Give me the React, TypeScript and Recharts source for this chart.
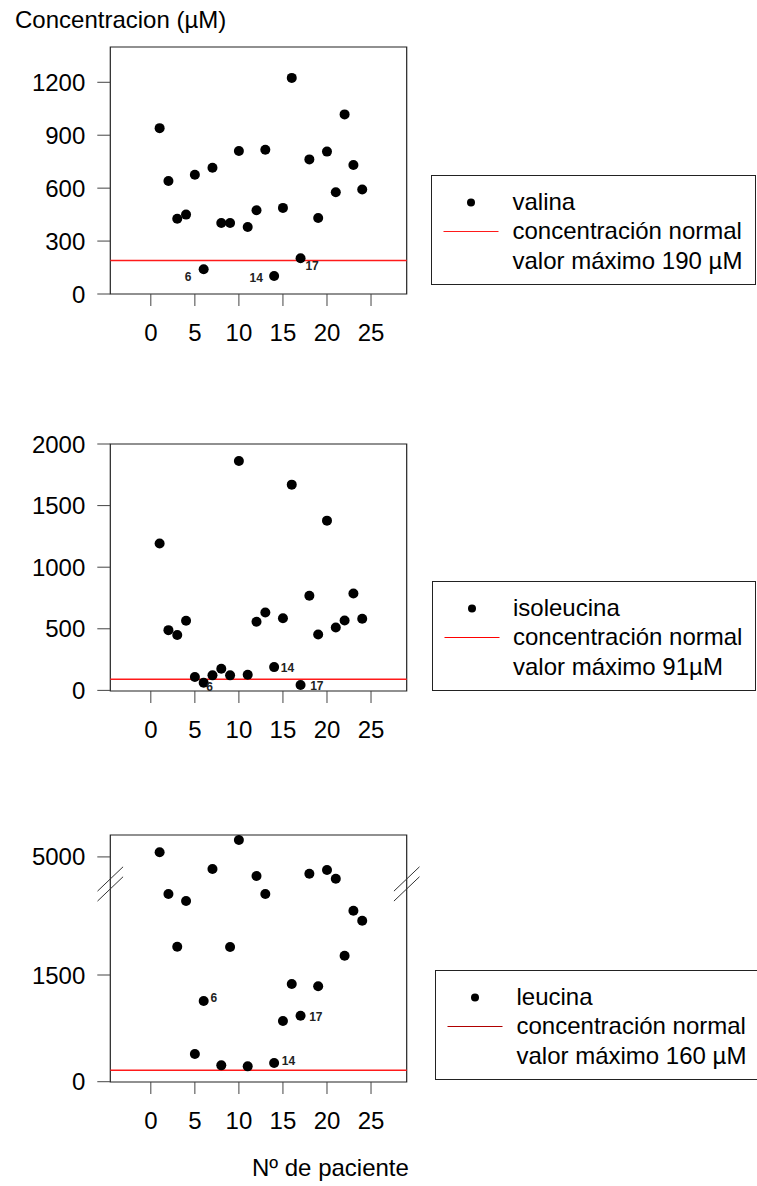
import { ScatterChart, Scatter, XAxis, YAxis, ReferenceLine, ReferenceArea } from "recharts"

// patient numbers on the x axis
const PATIENTS = [1, 2, 3, 4, 5, 6, 7, 8, 9, 10, 11, 12, 13, 14, 15, 16, 17, 18, 19, 20, 21, 22, 23, 24]

// concentrations in µM, one per patient
const VALINA = [940, 640, 427, 450, 676, 140, 716, 402, 402, 811, 380, 475, 818, 102, 488, 1225, 203, 763, 431, 807, 577, 1018, 731, 592]
const ISOLEUCINA = [1192, 489, 449, 565, 108, 62, 122, 176, 122, 1862, 127, 557, 632, 189, 586, 1670, 43, 768, 454, 1378, 511, 568, 786, 581]
const LEUCINA = [5171, 2639, 1898, 2540, 389, 1134, 4553, 230, 1894, 5626, 216, 4295, 2639, 263, 853, 1373, 928, 4379, 1341, 4516, 4195, 1771, 2404, 2263]

// upper limit of the normal range
const VALINA_NORMAL = 190
const ISOLEUCINA_NORMAL = 91
const LEUCINA_NORMAL = 160

const X_TICKS = [0, 5, 10, 15, 20, 25]
const VALINA_TICKS = [0, 300, 600, 900, 1200]
const ISOLEUCINA_TICKS = [0, 500, 1000, 1500, 2000]
const LEUCINA_TICKS = [0, 1500, 5000]

// patients that get a number next to their point
const LABELLED = [6, 14, 17]

const X_DOMAIN: [number, number] = [-4.6, 29.05]
const FONT = "'Liberation Sans', Arial, Helvetica, sans-serif"

// broken y axis for leucina: below BREAK_LOW linear, above it compressed from BREAK_HIGH
const BREAK_LOW = 2780
const BREAK_HIGH = 4000
const UPPER_SLOPE = 0.38
const brk = (v: number) => (v <= BREAK_LOW ? v : BREAK_LOW + (v - BREAK_HIGH) * UPPER_SLOPE)
const unbrk = (t: number) => (t <= BREAK_LOW ? t : BREAK_HIGH + (t - BREAK_LOW) / UPPER_SLOPE)
const same = (v: number) => v

const PLOT_H = 247

interface PanelProps {
  top: number
  values: number[]
  ticks: number[]
  domain: [number, number]
  normal: number
  labelOffsets: Record<number, [number, number]>
  transform?: (v: number) => number
  inverse?: (v: number) => number
  broken?: boolean
}

function Panel({ top, values, ticks, domain, normal, labelOffsets, transform = same, inverse = same, broken }: PanelProps) {
  const data = PATIENTS.map((p, i) => ({ patient: p, value: transform(values[i]) }))
  const slashes: { x: number; y: number }[][] = []
  if (broken) {
    for (const edge of X_DOMAIN) {
      for (const off of [70, -70]) {
        slashes.push([
          { x: edge - 1.45, y: BREAK_LOW + off - 171 },
          { x: edge + 1.45, y: BREAK_LOW + off + 171 },
        ])
      }
    }
  }
  return (
    <div style={{ position: "absolute", left: 0, top: top - 20 }}>
      <ScatterChart width={420} height={20 + PLOT_H + 60} margin={{ top: 20, right: 13.3, bottom: 0, left: 0 }}>
        <XAxis
          type="number"
          dataKey="patient"
          domain={X_DOMAIN}
          ticks={X_TICKS}
          interval={0}
          allowDataOverflow
          axisLine={false}
          tickSize={12}
          tickMargin={18}
          tickLine={{ stroke: "#444" }}
          tick={{ fontSize: 24, fill: "#000", fontFamily: FONT }}
          height={60}
        />
        <YAxis
          type="number"
          dataKey="value"
          domain={domain}
          ticks={ticks.map(transform)}
          tickFormatter={(t: number) => String(Math.round(inverse(t)))}
          interval={0}
          allowDataOverflow
          axisLine={false}
          tickSize={13}
          tickMargin={12}
          tickLine={{ stroke: "#444" }}
          tick={{ fontSize: 24, fill: "#000", fontFamily: FONT }}
          width={110.3}
        />
        <ReferenceArea
          x1={X_DOMAIN[0]}
          x2={X_DOMAIN[1]}
          y1={domain[0]}
          y2={domain[1]}
          fill="none"
          fillOpacity={0}
          stroke="#222"
          strokeWidth={1.2}
          ifOverflow="visible"
        />
        <ReferenceLine y={transform(normal)} stroke="#ff1a1a" strokeWidth={1.5} ifOverflow="visible" />
        {slashes.map((seg, i) => (
          <ReferenceLine key={i} segment={seg} stroke="#333" strokeWidth={1} ifOverflow="visible" />
        ))}
        <Scatter
          data={data}
          isAnimationActive={false}
          shape={(props: any) => {
            const { cx, cy, payload } = props
            const off = labelOffsets[payload.patient]
            return (
              <g>
                <circle cx={cx} cy={cy} r={5} fill="#000" />
                {LABELLED.includes(payload.patient) && off ? (
                  <text
                    x={cx + off[0]}
                    y={cy + off[1]}
                    textAnchor="middle"
                    dominantBaseline="central"
                    fontSize={12}
                    fontWeight="bold"
                    fontFamily={FONT}
                    fill="#222"
                  >
                    {payload.patient}
                  </text>
                ) : null}
              </g>
            )
          }}
        />
      </ScatterChart>
    </div>
  )
}

interface LegendProps {
  left: number
  top: number
  width: number
  name: string
  maxText: string
  lineColor: string
}

function LegendBox({ left, top, width, name, maxText, lineColor }: LegendProps) {
  return (
    <div
      style={{
        position: "absolute",
        left,
        top,
        width,
        height: 110,
        border: "1px solid #222",
        borderLeftWidth: 1.5,
        boxSizing: "border-box",
        fontFamily: FONT,
        fontSize: 24,
        lineHeight: "29.3px",
        color: "#000",
      }}
    >
      <svg width={80} height={110} style={{ position: "absolute", left: 0, top: 0 }}>
        <circle cx={39} cy={26.5} r={4} fill="#000" />
        <line x1={11.5} x2={66.5} y1={55.5} y2={55.5} stroke={lineColor} strokeWidth={1.2} />
      </svg>
      <div style={{ position: "absolute", left: 80.5, top: 11, whiteSpace: "nowrap" }}>
        <div>{name}</div>
        <div>concentración normal</div>
        <div>{maxText}</div>
      </div>
    </div>
  )
}

export default function App() {
  return (
    <div
      style={{
        position: "absolute",
        left: 0,
        top: 0,
        width: 757,
        height: 1186,
        overflow: "hidden",
        background: "#fff",
        fontFamily: FONT,
      }}
    >
      <div style={{ position: "absolute", left: 15, top: 6, fontSize: 24, lineHeight: "28px", whiteSpace: "nowrap" }}>
        Concentracion (µM)
      </div>

      <Panel
        top={47.3}
        values={VALINA}
        ticks={VALINA_TICKS}
        domain={[0, 1400]}
        normal={VALINA_NORMAL}
        labelOffsets={{ 6: [-15.6, 7.4], 14: [-18, 2], 17: [11.5, 7.4] }}
      />
      <LegendBox left={431} top={175} width={325} name="valina" maxText="valor máximo 190 µM" lineColor="#ff1a1a" />

      <Panel
        top={444.3}
        values={ISOLEUCINA}
        ticks={ISOLEUCINA_TICKS}
        domain={[-5, 2000]}
        normal={ISOLEUCINA_NORMAL}
        labelOffsets={{ 6: [6, 4.3], 14: [13.3, 1.3], 17: [16.3, 0.7] }}
      />
      <LegendBox left={431.5} top={581} width={324} name="isoleucina" maxText="valor máximo 91µM" lineColor="#ff0000" />

      <Panel
        top={835}
        values={LEUCINA}
        ticks={LEUCINA_TICKS}
        domain={[-4, 3468]}
        normal={LEUCINA_NORMAL}
        transform={brk}
        inverse={unbrk}
        broken
        labelOffsets={{ 6: [10.3, -3.3], 14: [14.3, -2.3], 17: [15.3, 1] }}
      />
      <LegendBox left={435} top={970} width={340} name="leucina" maxText="valor máximo 160 µM" lineColor="#b00000" />

      <div style={{ position: "absolute", left: 252, top: 1154, fontSize: 24, lineHeight: "28px", whiteSpace: "nowrap" }}>
        Nº de paciente
      </div>
    </div>
  )
}
